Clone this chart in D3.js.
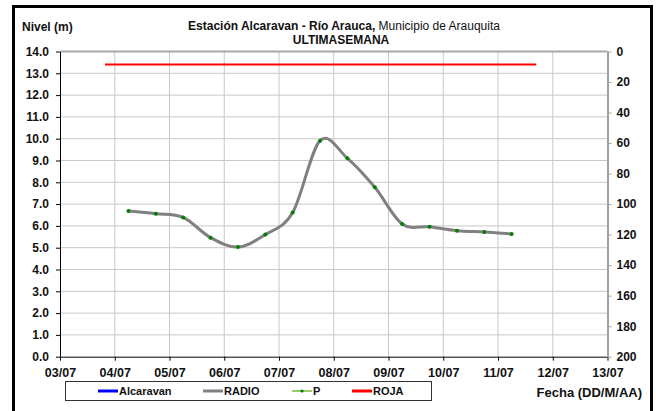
<!DOCTYPE html>
<html><head><meta charset="utf-8">
<script src="https://cdn.jsdelivr.net/npm/d3@7"></script>
<style>body{margin:0;background:#fff}svg{display:block;font-family:"Liberation Sans",Arial,sans-serif}</style>
</head><body><svg id="c" width="656" height="411"></svg>
<script>
const radioTimes = ["2024-07-04T06:00","2024-07-04T18:00","2024-07-05T06:00","2024-07-05T18:00","2024-07-06T06:00","2024-07-06T18:00","2024-07-07T06:00","2024-07-07T18:00","2024-07-08T06:00","2024-07-08T18:00","2024-07-09T06:00","2024-07-09T18:00","2024-07-10T06:00","2024-07-10T18:00","2024-07-11T06:00"];
const radioValues = [6.68,6.56,6.39,5.46,5.03,5.60,6.61,9.91,9.10,7.77,6.09,5.96,5.78,5.72,5.63];
const rojaTimes = ["2024-07-03T19:45","2024-07-11T16:45"];
const rojaValues = [13.4,13.4];
const xTickDates = ["2024-07-03","2024-07-04","2024-07-05","2024-07-06","2024-07-07","2024-07-08","2024-07-09","2024-07-10","2024-07-11","2024-07-12","2024-07-13"];
const yLeftTicks = [0,1,2,3,4,5,6,7,8,9,10,11,12,13,14];
const yRightTicks = [0,20,40,60,80,100,120,140,160,180,200];
const legendNames = ["Alcaravan","RADIO","P","ROJA"];

const svg = d3.select("#c");
const L=60, R=607.5, T=51.5, B=356.7;
const parse = d3.isoParse;
const x = d3.scaleTime().domain([parse(xTickDates[0]), parse(xTickDates[xTickDates.length-1])]).range([L,R]);
const y = d3.scaleLinear().domain([0,14]).range([B,T]);
const y2 = d3.scaleLinear().domain([0,200]).range([T,B]);

// frame
svg.append("rect").attr("x",13.5).attr("y",6.5).attr("width",638).attr("height",420)
  .attr("fill","none").attr("stroke","#000").attr("stroke-width",3);

// gridlines
const g = svg.append("g");
g.selectAll(".h").data(yLeftTicks.slice(1)).join("line")
  .attr("x1",L).attr("x2",R).attr("y1",d=>y(d)).attr("y2",d=>y(d))
  .attr("stroke","#c8c8c8").attr("stroke-width",1);
g.selectAll(".v").data(xTickDates.slice(1,-1)).join("line")
  .attr("x1",d=>x(parse(d))).attr("x2",d=>x(parse(d))).attr("y1",T).attr("y2",B)
  .attr("stroke","#c8c8c8").attr("stroke-width",1);
svg.append("line").attr("x1",L).attr("x2",R).attr("y1",T).attr("y2",T).attr("stroke","#a8a8a8").attr("stroke-width",2);

// axes
const fmt = d3.timeFormat("%d/%m");
const xAx = svg.append("g").attr("transform",`translate(0,${B})`)
  .call(d3.axisBottom(x).tickValues(xTickDates.map(parse)).tickFormat(fmt).tickSize(4).tickSizeOuter(0));
xAx.select(".domain").attr("stroke","#000");
xAx.selectAll("text").attr("font-size",12.5).attr("font-weight","bold").attr("fill","#111").attr("dy","1.1em");

const yAx = svg.append("g").attr("transform",`translate(${L},0)`)
  .call(d3.axisLeft(y).tickValues(yLeftTicks).tickFormat(d3.format(".1f")).tickSize(4).tickSizeOuter(0));
yAx.select(".domain").attr("stroke","#000");
yAx.selectAll("text").attr("font-size",12).attr("font-weight","bold").attr("fill","#111").attr("x",-11);

const y2Ax = svg.append("g").attr("transform",`translate(${R},0)`)
  .call(d3.axisRight(y2).tickValues(yRightTicks).tickSize(4).tickSizeOuter(0));
y2Ax.select(".domain").attr("stroke","#a0a0a0").attr("stroke-width",2);
y2Ax.selectAll(".tick line").attr("stroke","#a0a0a0");
y2Ax.selectAll("text").attr("font-size",12).attr("font-weight","bold").attr("fill","#111").attr("x",9);

// series
const radio = radioTimes.map((t,i)=>({t:parse(t),v:radioValues[i]}));
const line = d3.line().x(d=>x(d.t)).y(d=>y(d.v)).curve(d3.curveCardinal.tension(0));
svg.append("path").datum(radio).attr("d",line).attr("fill","none").attr("stroke","#808080").attr("stroke-width",3).attr("stroke-linejoin","round");
svg.selectAll(".pt").data(radio).join("circle").attr("cx",d=>x(d.t)).attr("cy",d=>y(d.v)).attr("r",2).attr("fill","#008000");

const roja = rojaTimes.map((t,i)=>({t:parse(t),v:rojaValues[i]}));
svg.append("path").datum(roja).attr("d",d3.line().x(d=>x(d.t)).y(d=>y(d.v))).attr("stroke","#ff0000").attr("stroke-width",2).attr("fill","none");

// titles
svg.append("text").attr("x",22).attr("y",31).attr("font-size",12).attr("font-weight","bold").attr("fill","#111").text("Nivel (m)");
const t1 = svg.append("text").attr("x",344).attr("y",30).attr("text-anchor","middle").attr("font-size",12).attr("fill","#111");
t1.append("tspan").attr("font-weight","bold").text("Estación Alcaravan - Río Arauca,");
t1.append("tspan").text(" Municipio de Arauquita");
svg.append("text").attr("x",341).attr("y",43.5).attr("text-anchor","middle").attr("font-size",12).attr("font-weight","bold").attr("fill","#111").text("ULTIMASEMANA");
svg.append("text").attr("x",642).attr("y",397).attr("text-anchor","end").attr("font-size",13).attr("font-weight","bold").attr("fill","#111").text("Fecha (DD/M/AA)");

// legend
svg.append("rect").attr("x",65.5).attr("y",381.5).attr("width",366).attr("height",19).attr("fill","#fff").attr("stroke","#333").attr("stroke-width",1);
const legX = [98,203,292,352];
const legColor = ["#0000ff","#808080","#99cc66","#ff0000"];
const lg = svg.selectAll(".lg").data(legendNames).join("g").attr("transform",(d,i)=>`translate(${legX[i]},391)`);
lg.append("line").attr("x1",0).attr("x2",20).attr("stroke",(d,i)=>legColor[i]).attr("stroke-width",(d,i)=>i===2?2:3);
lg.filter((d,i)=>i===2).append("circle").attr("cx",10).attr("r",1.6).attr("fill","#008000");
lg.append("text").attr("x",21).attr("y",4).attr("font-size",11).attr("font-weight","bold").attr("fill","#111").text(d=>d);
</script></body></html>
